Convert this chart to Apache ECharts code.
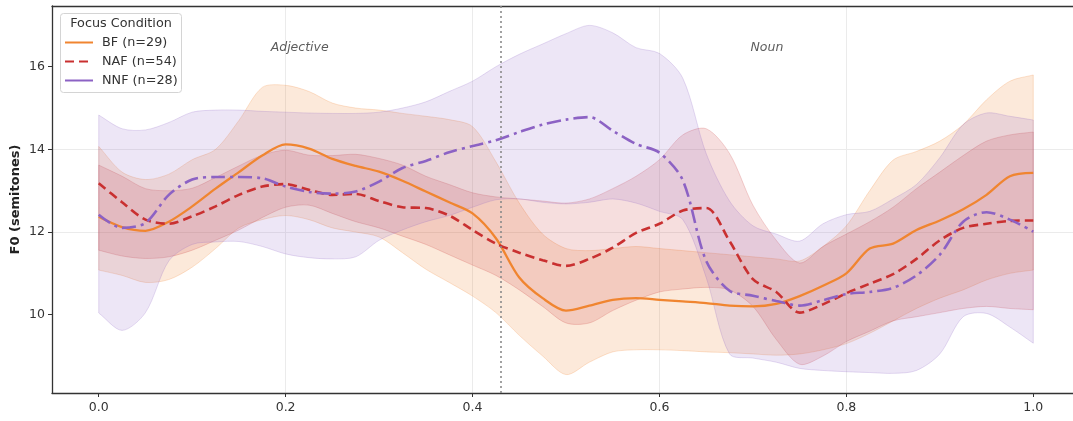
<!DOCTYPE html>
<html><head><meta charset="utf-8">
<script src="https://cdn.jsdelivr.net/npm/echarts@6/dist/echarts.min.js"></script>
<style>html,body{margin:0;padding:0;background:#fff}#c{width:1073px;height:421px}</style>
</head><body><div id="c"></div>
<script>
// ---- data ----
const xs = [0,0.025,0.05,0.075,0.1,0.125,0.15,0.175,0.2,0.225,0.25,0.275,0.3,0.325,0.35,0.375,0.4,0.425,0.45,0.475,0.5,0.525,0.55,0.575,0.6,0.625,0.65,0.675,0.7,0.725,0.75,0.775,0.8,0.825,0.85,0.875,0.9,0.925,0.95,0.975,1.0];

const bfMean  = [12.37,12.12,12.03,12.25,12.62,13.05,13.45,13.85,14.12,14.02,13.77,13.6,13.46,13.24,12.98,12.72,12.45,11.85,10.9,10.4,10.1,10.22,10.36,10.4,10.36,10.32,10.28,10.22,10.2,10.26,10.45,10.7,11.0,11.6,11.72,12.05,12.28,12.55,12.9,13.35,13.43];
const bfUpper = [14.07,13.45,13.27,13.4,13.75,14.0,14.7,15.5,15.55,15.4,15.12,15.0,14.95,14.87,14.8,14.72,14.55,13.7,12.7,11.95,11.6,11.55,11.6,11.65,11.6,11.55,11.5,11.45,11.4,11.35,11.3,11.65,12.15,13.0,13.74,13.95,14.2,14.6,15.2,15.65,15.8];
const bfLower = [11.08,10.95,10.78,10.85,11.15,11.6,12.1,12.3,12.4,12.3,12.1,12.0,11.88,11.5,11.1,10.78,10.45,10.05,9.5,9.0,8.55,8.85,9.1,9.15,9.15,9.13,9.1,9.08,9.05,9.02,9.05,9.15,9.3,9.55,9.85,10.15,10.4,10.6,10.84,11.0,11.08];

const nafMean  = [13.18,12.72,12.3,12.2,12.38,12.62,12.9,13.1,13.16,13.02,12.9,12.92,12.75,12.6,12.58,12.4,12.05,11.72,11.5,11.32,11.18,11.35,11.62,11.98,12.2,12.52,12.58,11.78,10.86,10.55,10.05,10.25,10.52,10.75,10.98,11.35,11.8,12.1,12.2,12.27,12.28];
const nafUpper = [13.62,13.35,13.05,13.0,13.06,13.32,13.6,13.86,13.98,13.86,13.85,13.88,13.78,13.62,13.35,13.15,12.95,12.85,12.8,12.75,12.7,12.8,13.05,13.35,13.75,14.35,14.5,13.9,12.65,11.8,11.25,11.65,11.95,12.25,12.6,13.05,13.45,13.85,14.2,14.35,14.42];
const nafLower = [11.56,11.42,11.36,11.4,11.56,11.8,12.05,12.35,12.6,12.65,12.45,12.25,12.1,11.9,11.7,11.45,11.2,10.95,10.6,10.2,9.8,9.8,10.1,10.35,10.55,10.62,10.66,10.6,10.2,9.4,8.8,9.0,9.35,9.6,9.85,9.95,10.05,10.15,10.2,10.15,10.12];

const nnfMean  = [12.42,12.1,12.22,12.9,13.27,13.33,13.33,13.3,13.1,12.97,12.93,12.98,13.22,13.55,13.72,13.93,14.08,14.22,14.42,14.6,14.72,14.78,14.45,14.13,13.92,13.25,11.3,10.58,10.46,10.33,10.22,10.35,10.5,10.55,10.65,10.95,11.45,12.25,12.48,12.3,12.01];
const nnfUpper = [14.83,14.5,14.47,14.65,14.9,14.95,14.95,14.92,14.9,14.88,14.87,14.87,14.9,15.0,15.15,15.4,15.65,16.0,16.3,16.55,16.8,17.0,16.82,16.46,16.32,15.72,13.9,12.75,12.15,11.95,11.78,12.2,12.42,12.5,12.8,13.15,13.8,14.6,14.88,14.8,14.71];
const nnfLower = [10.04,9.62,10.05,11.3,11.7,11.76,11.77,11.65,11.47,11.38,11.35,11.4,11.8,12.05,12.25,12.4,12.6,12.78,12.8,12.72,12.68,12.72,12.8,12.7,12.5,12.3,10.9,9.05,8.95,8.85,8.7,8.65,8.62,8.6,8.58,8.65,9.05,9.95,10.03,9.7,9.31];

const seriesNames = ['BF (n=29)','NAF (n=54)','NNF (n=28)'];
const legendTitle = 'Focus Condition';
const regionNames = ['Adjective','Noun'];
const regionBoundary = 0.43;
const regionLabelY = 16.45;
const xTicks = [0,0.2,0.4,0.6,0.8,1.0];
const yTicks = [10,12,14,16];

// ---- styling ----
const FONT = 'DejaVu Sans';
const colors = ['#f08530','#c93030','#8c62c4'];
const bandFill = ['rgba(240,133,48,0.18)','rgba(201,48,48,0.16)','rgba(140,98,196,0.16)'];
const bandStroke = ['rgba(240,133,48,0.22)','rgba(201,48,48,0.2)','rgba(140,98,196,0.22)'];
const lineTypes = ['solid',[9,5],[14,5,3,5]];
const lineWidths = [2.3,2.6,2.6];
const SPINE = {color:'#333', width:1.3};

const means = [bfMean,nafMean,nnfMean];
const uppers = [bfUpper,nafUpper,nnfUpper];
const lowers = [bfLower,nafLower,nnfLower];

function bandSeries(k){
  const up = uppers[k], lo = lowers[k];
  return {
    type:'custom', name:'band'+k, coordinateSystem:'cartesian2d', z:1, silent:true,
    data: xs.map((x,i)=>[x, lo[i], up[i]]),
    encode:{x:0, y:[1,2]},
    renderItem:function(params, api){
      if (params.dataIndex !== 0) return null;
      const pts = [];
      const n = xs.length;
      for (let i=0;i<n;i++){ const p = api.coord([xs[i], up[i]]); pts.push(p); if(i===0||i===n-1) pts.push(p.slice()); }
      for (let i=n-1;i>=0;i--){ const p = api.coord([xs[i], lo[i]]); pts.push(p); if(i===0||i===n-1) pts.push(p.slice()); }
      return {type:'polygon', shape:{points:pts, smooth:0.3}, style:{fill:bandFill[k], stroke:bandStroke[k], lineWidth:1}};
    }
  };
}

function lineSeries(k){
  const s = {
    type:'line', name:seriesNames[k], z:3, symbol:'none', showSymbol:false, smooth:0.3, silent:true,
    data: xs.map((x,i)=>[x, means[k][i]]),
    lineStyle:{color:colors[k], width:lineWidths[k], type:lineTypes[k], cap:'butt'},
    itemStyle:{color:colors[k]}
  };
  if (k===0){
    s.markLine = {symbol:'none', silent:true, label:{show:false},
      lineStyle:{color:'#8a8a8a', type:[2,3], width:1.6},
      data:[{xAxis:regionBoundary}]};
  }
  return s;
}

const regionCenters = [(0+regionBoundary)/2, (regionBoundary+1)/2];

const chart = echarts.init(document.getElementById('c'), null, {renderer:'canvas'});
chart.setOption({
  animation:false,
  backgroundColor:'#ffffff',
  grid:{left:52, top:6, right:-7, bottom:28, containLabel:false, outerBoundsMode:'none', show:false},
  xAxis:[{type:'value', min:-0.05, max:1.05, position:'bottom',
    axisLine:{show:true, onZero:false, lineStyle:SPINE},
    axisTick:{show:true, length:4, lineStyle:{color:'#333'}, customValues:xTicks},
    axisLabel:{customValues:xTicks, formatter:v=>v.toFixed(1), color:'#333', fontSize:12.5, fontFamily:FONT, margin:8},
    splitLine:{show:true, showMinLine:false, showMaxLine:false, lineStyle:{color:'#ebebeb', width:1}}
  },{type:'value', min:-0.05, max:1.05, position:'top',
    axisLine:{show:true, onZero:false, lineStyle:SPINE},
    axisTick:{show:false}, axisLabel:{show:false}, splitLine:{show:false}
  }],
  yAxis:{type:'value', min:8.105, max:17.469,
    name:'F0 (semitones)', nameLocation:'middle', nameGap:30, nameMoveOverlap:false,
    nameTextStyle:{fontWeight:'bold', fontSize:13, color:'#222', fontFamily:FONT},
    axisLine:{show:true, onZero:false, lineStyle:SPINE},
    axisTick:{show:true, length:4, lineStyle:{color:'#333'}, customValues:yTicks},
    axisLabel:{customValues:yTicks, formatter:v=>String(v), color:'#333', fontSize:12.5, fontFamily:FONT, margin:7},
    splitLine:{show:true, showMinLine:false, showMaxLine:false, lineStyle:{color:'#ebebeb', width:1}}
  },
  legend:{
    data:[seriesNames[0], seriesNames[1], {name:seriesNames[2], lineStyle:{type:'solid'}}],
    orient:'vertical', left:64, top:36, padding:0, itemGap:6, itemWidth:28, itemHeight:14, z:20,
    itemStyle:{color:'rgba(0,0,0,0)', borderWidth:0, opacity:0},
    textStyle:{color:'#333', fontSize:12.8, fontFamily:FONT, padding:[0,0,0,4]},
    selectedMode:false
  },
  graphic:[
    {type:'rect', z:15, shape:{x:60.5, y:13.5, width:121, height:79, r:3}, style:{fill:'rgba(255,255,255,0.82)', stroke:'#d4d4d4', lineWidth:1}},
    {type:'text', z:16, x:121, y:24, style:{text:legendTitle, fill:'#333', font:'12.8px "DejaVu Sans"', align:'center', verticalAlign:'middle'}}
  ],
  series:[
    bandSeries(0), bandSeries(1), bandSeries(2),
    lineSeries(0), lineSeries(1), lineSeries(2),
    {type:'scatter', name:'regions', z:4, silent:true, symbol:'circle', symbolSize:1, itemStyle:{color:'rgba(0,0,0,0)'},
     data: regionNames.map((n,i)=>({name:n, value:[regionCenters[i], regionLabelY]})),
     label:{show:true, position:'inside', formatter:p=>p.name, color:'#333', fontStyle:'italic', fontSize:12.5, fontFamily:FONT}}
  ]
});
</script></body></html>
